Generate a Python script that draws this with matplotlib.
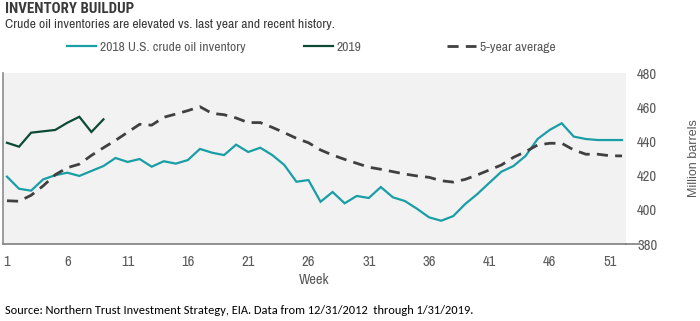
import matplotlib
matplotlib.use("Agg")
import matplotlib.pyplot as plt

# weekly inventory levels, million barrels
weeks = list(range(1, 53))
inv_2018 = [419.4, 412.3, 411.2, 417.8, 420.2, 421.7, 419.8, 422.7, 425.6, 430.3,
            428.0, 429.7, 425.2, 428.4, 427.0, 429.1, 435.6, 433.4, 432.0, 438.1,
            433.8, 436.3, 432.0, 426.2, 416.4, 417.4, 404.7, 410.4, 403.8, 408.1,
            406.9, 413.3, 407.3, 405.1, 400.6, 395.6, 393.6, 396.3, 403.4, 409.2,
            415.8, 422.3, 425.6, 431.5, 441.4, 446.7, 450.6, 442.8, 441.4, 440.8,
            440.8, 440.8]
weeks_2019 = list(range(1, 10))
inv_2019 = [439.2, 436.9, 445.1, 445.9, 446.7, 450.9, 454.4, 445.5, 452.9]
avg_5yr = [405.3, 405.0, 408.5, 414.0, 420.5, 424.6, 426.7, 431.8, 436.3, 440.6,
           445.3, 450.0, 449.5, 454.1, 456.0, 458.0, 460.3, 456.4, 455.6, 453.7,
           451.0, 451.0, 448.2, 445.1, 441.8, 439.2, 435.0, 432.0, 429.5, 427.2,
           424.9, 423.7, 422.3, 420.9, 419.8, 419.0, 417.0, 416.2, 417.8, 420.4,
           423.3, 426.2, 430.7, 434.0, 437.9, 438.9, 438.9, 435.0, 432.5, 432.5,
           431.6, 431.5]
xticks = [1, 6, 11, 16, 21, 26, 31, 36, 41, 46, 51]
yticks = [380, 400, 420, 440, 460, 480]

TEAL = "#1a9ea6"
DARK = "#0d4a36"
DASH = "#404040"
GRAY = "#595959"

plt.rcParams["font.family"] = ["Archivo Narrow", "DejaVu Sans"]

W, H = 700, 321
fig = plt.figure(figsize=(W / 100, H / 100), dpi=100)
ax = fig.add_axes([3 / W, 1 - 244 / H, 623 / W, 171 / H])
ax.set_facecolor("#f2f2f2")

l18, = ax.plot(weeks, inv_2018, color=TEAL, lw=1.6, solid_joinstyle="miter")
l19, = ax.plot(weeks_2019, inv_2019, color=DARK, lw=1.6, solid_joinstyle="miter")
l5, = ax.plot(weeks, avg_5yr, color=DASH, lw=2.0, dashes=(4, 2.6))

ax.set_xlim(0.67, 52.33)
ax.set_ylim(380, 480)
ax.set_xticks(xticks)
ax.set_yticks(yticks)
ax.yaxis.tick_right()
ax.tick_params(axis="both", length=0, labelsize=10.5, labelcolor=GRAY)
ax.tick_params(axis="x", pad=8)
ax.tick_params(axis="y", pad=8)
ax.set_xlabel("Week", fontsize=10.5, color=GRAY, labelpad=3)
ax.yaxis.set_label_position("right")
ax.set_ylabel("Million barrels", fontsize=9, color=GRAY, labelpad=22,
              family=["Liberation Sans", "DejaVu Sans"])

for s in ("top", "right"):
    ax.spines[s].set_visible(False)
ax.spines["left"].set_color("#8c8c8c")
ax.spines["left"].set_linewidth(1.2)
ax.spines["bottom"].set_color("#7f7f7f")
ax.spines["bottom"].set_linewidth(1.2)
# bottom axis line runs a little past the plot area
ax.plot([1.0, 1.022], [0, 0], transform=ax.transAxes, color="#7f7f7f",
        lw=1.2, clip_on=False)

fig.text(5 / W, 1 - 9 / H, "INVENTORY BUILDUP", fontsize=10.8, fontweight="bold",
         color="#3a3a3a", va="center", ha="left",
         family=["Roboto Condensed", "DejaVu Sans"])
fig.text(5 / W, 1 - 24 / H, "Crude oil inventories are elevated vs. last year and recent history.",
         fontsize=9.8, color="#3a3a3a", va="center", ha="left")
fig.text(5 / W, 1 - 310 / H,
         "Source: Northern Trust Investment Strategy, EIA. Data from 12/31/2012  through 1/31/2019.",
         fontsize=8.9, color="#000000", va="center", ha="left",
         family=["Carlito", "DejaVu Sans"])

# legend entries placed one by one along the top
for handle, label, x in [(l18, "2018 U.S. crude oil inventory", 67),
                         (l19, "2019", 304),
                         (l5, "5-year average", 447)]:
    leg = fig.legend(handles=[handle], labels=[label], loc="center left",
                     bbox_to_anchor=(x / W, 1 - 47 / H), frameon=False,
                     handlelength=2.1, handletextpad=0.3, borderpad=0,
                     borderaxespad=0, prop={"size": 9.8})
    for t in leg.get_texts():
        t.set_color(GRAY)

fig.savefig("out.png", dpi=100, facecolor="white")
